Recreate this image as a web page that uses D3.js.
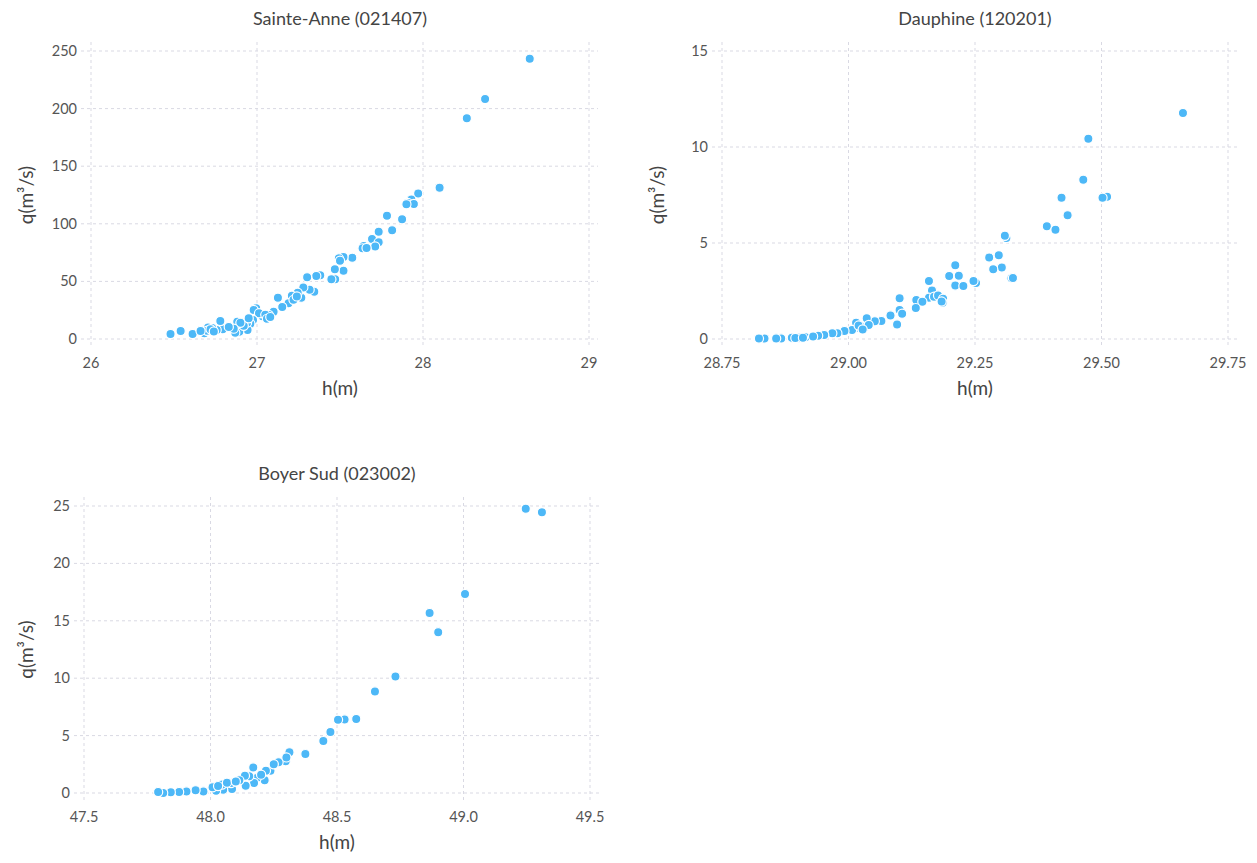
<!DOCTYPE html>
<html>
<head>
<meta charset="utf-8">
<script src="https://cdn.jsdelivr.net/npm/d3@7"></script>
<style>
  body { margin: 0; background: #fff; }
  svg { font-family: Lato, "Open Sans", sans-serif; }
  .grid line { stroke: #d9d9e3; stroke-dasharray: 3,3; stroke-width: 1; }
  .tick-label { fill: #555; font-size: 14.5px; }
  .title { fill: #444; font-size: 18px; }
  .axis-title { fill: #444; font-size: 19px; }
  .dot { fill: #4db8f7; stroke: #fff; stroke-width: 1.2; }
</style>
</head>
<body>
<svg id="chart"></svg>
<script>
// Sainte-Anne (021407)
const stAnneH = [28.643, 28.374, 28.264, 28.1, 27.971, 27.93, 27.91, 27.945, 27.874, 27.783, 27.814, 27.733, 27.693, 27.733,
  27.712, 27.643, 27.636, 27.574, 27.521, 27.493, 27.521, 27.469, 27.471, 27.448, 27.381, 27.357, 27.302, 27.345, 27.317,
  27.279, 27.267, 27.245, 27.21, 27.19, 27.152, 27.126, 27.1, 27.071, 27.033, 26.995, 26.98, 27.012, 26.976, 26.96, 26.943,
  26.94, 26.905, 26.893, 26.881, 26.869, 26.881, 26.793, 26.779, 26.757, 26.73, 26.705, 26.683, 26.7, 26.612, 26.54, 26.479,
  26.92, 26.9, 26.86, 26.83, 26.95, 27.05, 27.06, 27.08, 27.22, 27.24, 27.5, 27.66, 27.9, 26.72, 26.74, 26.66];
const stAnneQ = [243.3, 208.3, 191.6, 131.4, 126.2, 121, 118, 117.2, 103.9, 107, 94.3, 93.2, 86.8, 83.9,
  80.4, 80.7, 78.7, 70.6, 71.2, 70, 59.3, 60.5, 51.8, 51.8, 55.3, 54.7, 53.5, 41.1, 42.8,
  44.8, 35.9, 40.2, 37.6, 31, 27.8, 35.9, 23.7, 20.8, 19.7, 26.6, 25.2, 22.3, 16.5, 13.3, 7.8,
  14.2, 10.7, 6.4, 12.7, 5.5, 15, 8.4, 15.6, 7.8, 9.5, 10, 4.9, 7.2, 4.3, 6.9, 4.3,
  11.5, 14, 9, 10.5, 18, 21, 17.5, 19, 34, 37, 68, 79, 117, 8.5, 6.5, 7];

// Dauphine (120201)
const dauphineH = [29.661, 29.474, 29.464, 29.421, 29.511, 29.502, 29.433, 29.392, 29.409, 29.312, 29.309, 29.297, 29.278,
  29.303, 29.286, 29.322, 29.325, 29.211, 29.199, 29.218, 29.211, 29.227, 29.252, 29.247, 29.159, 29.165, 29.159, 29.169,
  29.177, 29.187, 29.186, 29.134, 29.146, 29.133, 29.101, 29.101, 29.106, 29.096, 29.083, 29.065, 29.052, 29.036, 29.032,
  29.04, 29.013, 29.015, 29.007, 28.992, 28.978, 28.968, 28.952, 28.94, 28.915, 28.902, 28.888, 28.867, 28.857, 28.834,
  28.823, 28.895, 28.91, 28.93, 29.02, 29.028, 29.184];
const dauphineQ = [11.77, 10.43, 8.3, 7.36, 7.41, 7.36, 6.44, 5.87, 5.69, 5.26, 5.38, 4.36, 4.24,
  3.72, 3.63, 3.16, 3.18, 3.84, 3.28, 3.3, 2.78, 2.76, 2.92, 3.02, 3.02, 2.52, 2.15, 2.2,
  2.27, 2.1, 1.89, 2.03, 1.94, 1.61, 2.12, 1.51, 1.32, 0.76, 1.23, 0.94, 0.92, 1.08, 0.61,
  0.73, 0.56, 0.85, 0.47, 0.42, 0.3, 0.3, 0.21, 0.17, 0.09, 0.07, 0.07, 0.03, 0.03, 0.02,
  0.02, 0.05, 0.06, 0.13, 0.7, 0.5, 1.95];

// Boyer Sud (023002)
const boyerH = [49.246, 49.31, 49.006, 48.866, 48.9, 48.731, 48.65, 48.576, 48.53, 48.504, 48.474, 48.446, 48.375,
  48.312, 48.297, 48.269, 48.237, 48.219, 48.214, 48.169, 48.183, 48.172, 48.153, 48.136, 48.139, 48.114, 48.085,
  48.081, 48.05, 48.046, 48.022, 48.008, 47.972, 47.941, 47.905, 47.876, 47.843, 47.813, 47.793, 48.25, 48.3, 48.2,
  48.065, 48.1, 48.03];
const boyerQ = [24.77, 24.45, 17.34, 15.69, 14.01, 10.15, 8.85, 6.44, 6.41, 6.38, 5.31, 4.52, 3.39,
  3.54, 2.76, 2.67, 1.94, 1.94, 1.1, 2.23, 1.3, 0.87, 1.45, 1.51, 0.64, 1.1, 0.35,
  0.87, 0.29, 0.73, 0.2, 0.49, 0.14, 0.23, 0.14, 0.09, 0.06, 0.0, 0.09, 2.5, 3.1, 1.6,
  0.9, 1.0, 0.6];

const stAnneXTicks = [26, 27, 28, 29];
const stAnneYTicks = [0, 50, 100, 150, 200, 250];
const dauphineXTicks = [28.75, 29.0, 29.25, 29.5, 29.75];
const dauphineYTicks = [0, 5, 10, 15];
const boyerXTicks = [47.5, 48.0, 48.5, 49.0, 49.5];
const boyerYTicks = [0, 5, 10, 15, 20, 25];

const svg = d3.select("#chart").attr("width", 1257).attr("height", 863);

function drawPanel(cfg) {
  const x = d3.scaleLinear().domain(d3.extent(cfg.xTicks)).range([cfg.left, cfg.right]);
  const y = d3.scaleLinear().domain(d3.extent(cfg.yTicks)).range([cfg.bottom, cfg.top]);
  const g = svg.append("g");

  // dashed grid, a bit longer than the tick range
  const grid = g.append("g").attr("class", "grid");
  grid.selectAll(".v").data(cfg.xTicks).join("line")
    .attr("x1", (d) => x(d)).attr("x2", (d) => x(d))
    .attr("y1", cfg.top - 9).attr("y2", cfg.bottom + 9);
  grid.selectAll(".h").data(cfg.yTicks).join("line")
    .attr("class", "h")
    .attr("y1", (d) => y(d)).attr("y2", (d) => y(d))
    .attr("x1", cfg.left - 10).attr("x2", cfg.right + 9);

  g.selectAll(".xl").data(cfg.xTicks).join("text")
    .attr("class", "tick-label xl")
    .attr("x", (d) => x(d)).attr("y", cfg.bottom + 29)
    .attr("text-anchor", "middle")
    .text((d) => d3.format(cfg.xFmt)(d));
  g.selectAll(".yl").data(cfg.yTicks).join("text")
    .attr("class", "tick-label yl")
    .attr("x", cfg.left - 14).attr("y", (d) => y(d) + 5)
    .attr("text-anchor", "end")
    .text((d) => d);

  g.append("text").attr("class", "title")
    .attr("x", (cfg.left + cfg.right) / 2).attr("y", cfg.top - 26)
    .attr("text-anchor", "middle").text(cfg.title);
  g.append("text").attr("class", "axis-title")
    .attr("x", (cfg.left + cfg.right) / 2).attr("y", cfg.bottom + 56)
    .attr("text-anchor", "middle").text("h(m)");
  g.append("text").attr("class", "axis-title")
    .attr("transform", `translate(${cfg.yTitleX},${(cfg.top + cfg.bottom) / 2}) rotate(-90)`)
    .attr("text-anchor", "middle").text("q(m³/s)");

  const pts = cfg.h.map((h, i) => ({ h, q: cfg.q[i] }));
  g.selectAll("circle").data(pts).join("circle")
    .attr("class", "dot")
    .attr("cx", (d) => x(d.h)).attr("cy", (d) => y(d.q))
    .attr("r", 4.6);
}

drawPanel({
  title: "Sainte-Anne (021407)", h: stAnneH, q: stAnneQ,
  xTicks: stAnneXTicks, yTicks: stAnneYTicks, xFmt: "d",
  left: 91, right: 589, top: 51, bottom: 339, yTitleX: 33,
});
drawPanel({
  title: "Dauphine (120201)", h: dauphineH, q: dauphineQ,
  xTicks: dauphineXTicks, yTicks: dauphineYTicks, xFmt: ".2f",
  left: 722, right: 1228, top: 51, bottom: 339, yTitleX: 664,
});
drawPanel({
  title: "Boyer Sud (023002)", h: boyerH, q: boyerQ,
  xTicks: boyerXTicks, yTicks: boyerYTicks, xFmt: ".1f",
  left: 84, right: 590, top: 506, bottom: 793, yTitleX: 33,
});
</script>
</body>
</html>
